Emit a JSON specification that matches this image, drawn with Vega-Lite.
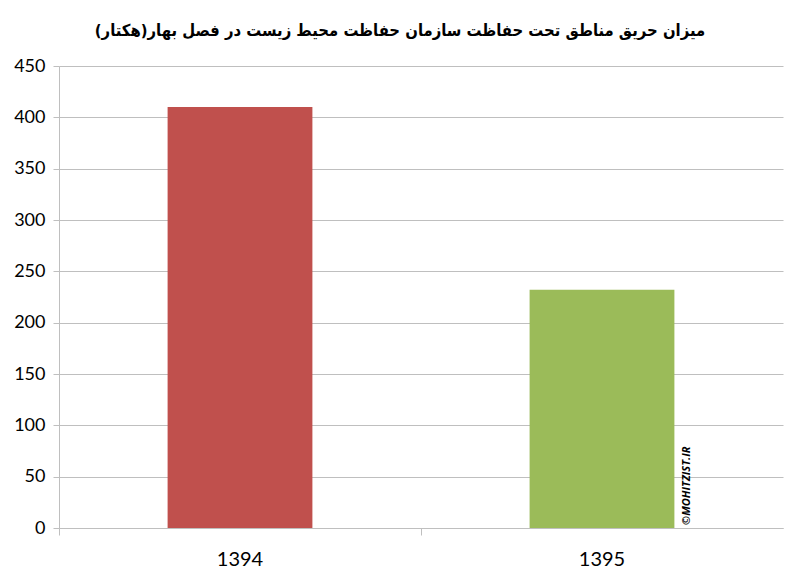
{
  "$schema": "https://vega.github.io/schema/vega-lite/v6.json",
  "width": 724,
  "height": 462,
  "autosize": "none",
  "padding": {"left": 59, "top": 66, "right": 17, "bottom": 53},
  "background": "white",
  "title": {
    "text": "میزان حریق مناطق تحت حفاظت سازمان حفاظت محیط زیست در فصل بهار(هکتار)",
    "font": "DejaVu Sans Condensed",
    "fontSize": 16.5,
    "fontWeight": "bold",
    "color": "#000000",
    "anchor": "middle",
    "dx": -21,
    "offset": 18
  },
  "data": {
    "values": [
      {"year": "1394", "area": 410},
      {"year": "1395", "area": 232}
    ]
  },
  "layer": [
    {
      "mark": {"type": "bar", "width": {"band": 0.4}},
      "encoding": {
        "x": {
          "field": "year",
          "type": "nominal",
          "scale": {"paddingInner": 0, "paddingOuter": 0},
          "axis": {
            "title": null,
            "labelAngle": 0,
            "labelFont": "Lato",
            "labelFontSize": 20,
            "labelColor": "#000000",
            "labelPadding": 14,
            "bandPosition": 0,
            "ticks": true,
            "tickSize": 7,
            "tickColor": "#BFBFBF",
            "domainColor": "#BFBFBF",
            "grid": false
          }
        },
        "y": {
          "field": "area",
          "type": "quantitative",
          "scale": {"domain": [0, 450], "nice": false},
          "axis": {
            "title": null,
            "values": [0, 50, 100, 150, 200, 250, 300, 350, 400, 450],
            "labelFont": "Lato",
            "labelFontSize": 18,
            "labelColor": "#000000",
            "labelPadding": 8,
            "tickSize": 6,
            "tickColor": "#BFBFBF",
            "domainColor": "#BFBFBF",
            "gridColor": "#BFBFBF",
            "gridWidth": 1
          }
        },
        "color": {
          "field": "year",
          "type": "nominal",
          "scale": {"domain": ["1394", "1395"], "range": ["#C0504D", "#9BBB59"]},
          "legend": null
        }
      }
    },
    {
      "data": {"values": [{"year": "1395", "area": 0, "label": "©MOHITZIST.IR"}]},
      "mark": {
        "type": "text",
        "angle": 270,
        "align": "left",
        "baseline": "middle",
        "font": "Open Sans",
        "fontSize": 11,
        "fontWeight": "bold",
        "fontStyle": "italic",
        "color": "#000000",
        "dx": 3,
        "dy": 85
      },
      "encoding": {
        "x": {"field": "year", "type": "nominal"},
        "y": {"field": "area", "type": "quantitative"},
        "text": {"field": "label"}
      }
    }
  ],
  "config": {
    "view": {"stroke": null}
  }
}
